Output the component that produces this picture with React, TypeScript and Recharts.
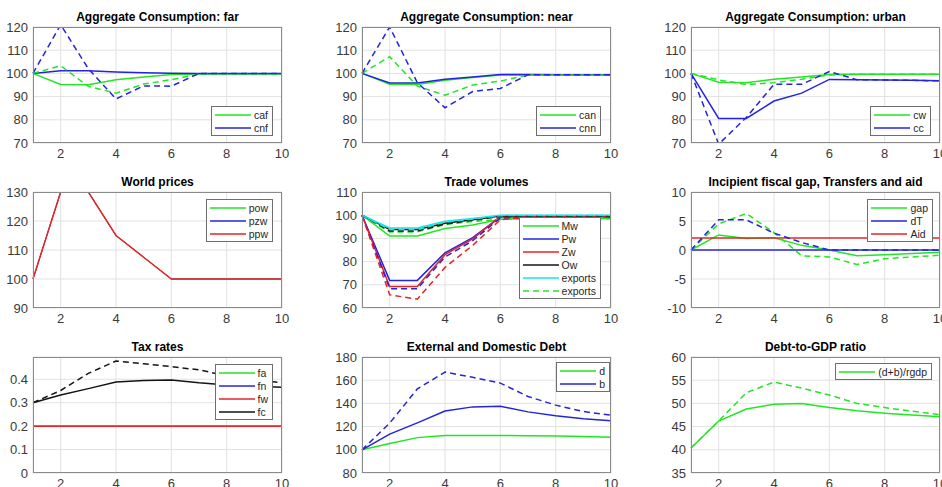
import React from 'react';
import { LineChart, Line, XAxis, YAxis, CartesianGrid } from 'recharts';

// ---------- data ----------
const periods = [1, 2, 3, 4, 5, 6, 7, 8, 9, 10];
const xTicks = [2, 4, 6, 8, 10];

// Aggregate Consumption: far
const cafBase = [100, 95.2, 95.1, 97.3, 98.5, 99.5, 99.7, 99.7, 99.7, 99.7];
const cnfBase = [100, 101.1, 101.1, 100.6, 100.3, 100.1, 100, 100, 100, 100];
const cafAlt = [100, 103.3, 94.4, 91.5, 95.4, 97.3, 99.7, 99.7, 99.7, 99.7];
const cnfAlt = [100, 121, 102, 89, 94.6, 94.5, 100, 100, 100, 100];

// Aggregate Consumption: near
const canBase = [100, 95.3, 95.2, 97, 98.2, 99.3, 99.3, 99.3, 99.3, 99.3];
const cnnBase = [100, 95.9, 95.9, 97.5, 98.5, 99.5, 99.5, 99.4, 99.4, 99.4];
const canAlt = [100, 107.2, 94.5, 90.6, 95, 96.7, 99.3, 99.3, 99.3, 99.3];
const cnnAlt = [100, 120, 96, 85.2, 92.2, 93.5, 99.4, 99.4, 99.4, 99.4];

// Aggregate Consumption: urban
const cwBase = [100, 96.2, 96, 97.5, 98.5, 99.5, 99.6, 99.6, 99.6, 99.6];
const ccBase = [100, 80.6, 80.6, 88.1, 91.5, 97.4, 97.3, 97.2, 97, 96.8];
const cwAlt = [100, 97.2, 95.2, 96, 97.5, 99.3, 99.6, 99.6, 99.6, 99.6];
const ccAlt = [100, 69.5, 81, 95.3, 95.3, 100.8, 97.3, 97.2, 97, 96.8];

// World prices
const powBase = [100, 130, 130, 115, 107.5, 100, 100, 100, 100, 100];
const pzwBase = [100, 130, 130, 115, 107.5, 100, 100, 100, 100, 100];
const ppwBase = [100, 130, 130, 115, 107.5, 100, 100, 100, 100, 100];

// Trade volumes
const mwBase = [100, 91, 91, 94.3, 95.8, 98.3, 98.6, 98.6, 98.6, 98.6];
const pwBase = [100, 71.9, 71.9, 83.8, 90.3, 99.2, 99.3, 99.3, 99.3, 99.3];
const zwBase = [100, 69.3, 69.3, 83, 89.8, 99.5, 99.5, 99.5, 99.5, 99.5];
const owBase = [100, 93.8, 93.8, 96.5, 98, 99.7, 99.8, 99.8, 99.8, 99.8];
const exportsBase = [100, 94.5, 94.5, 97.4, 98.6, 100, 100, 100, 100, 100];
const mwAlt = [100, 92.8, 92.8, 96, 97.3, 98.2, 98.5, 98.5, 98.5, 98.5];
const pwAlt = [100, 68.3, 68.3, 82, 89, 98.8, 99.1, 99.1, 99.1, 99.1];
const zwAlt = [100, 65.7, 63.8, 77.5, 87, 98, 99.2, 99.2, 99.2, 99.2];
const owAlt = [100, 93.2, 93.2, 96.2, 97.8, 99.5, 99.6, 99.6, 99.6, 99.6];
const exportsAlt = [100, 93.8, 93.8, 97, 98.3, 99.8, 99.9, 99.9, 99.9, 99.9];

// Incipient fiscal gap, Transfers and aid
const gapBase = [0, 2.6, 2.0, 2.1, 0.8, 0, -1, -0.8, -0.6, -0.4];
const dTBase = [0, 0, 0, 0, 0, 0, 0, 0, 0, 0];
const aidBase = [2.05, 2.05, 2.05, 2.05, 2.05, 2.05, 2.05, 2.05, 2.05, 2.05];
const gapAlt = [0, 4.5, 6.3, 3.0, -1, -1.2, -2.5, -1.5, -1.2, -0.9];
const dTAlt = [0, 5.2, 5.2, 2.9, 1.3, 0, 0, 0, 0, 0];

// Tax rates
const faBase = [0.2, 0.2, 0.2, 0.2, 0.2, 0.2, 0.2, 0.2, 0.2, 0.2];
const fnBase = [0.2, 0.2, 0.2, 0.2, 0.2, 0.2, 0.2, 0.2, 0.2, 0.2];
const fwBase = [0.2, 0.2, 0.2, 0.2, 0.2, 0.2, 0.2, 0.2, 0.2, 0.2];
const fcBase = [0.3, 0.333, 0.36, 0.388, 0.395, 0.397, 0.385, 0.376, 0.37, 0.366];
const fcAlt = [0.3, 0.352, 0.425, 0.478, 0.466, 0.454, 0.44, 0.415, 0.398, 0.385];

// External and Domestic Debt
const dBase = [100, 105.5, 110.5, 112.3, 112.3, 112.3, 112.2, 112, 111.5, 110.8];
const bBase = [100, 113.5, 123.2, 133.5, 137, 137.5, 132.7, 129.3, 126.8, 125];
const bAlt = [100, 123, 152.5, 167, 162.5, 157.5, 146, 138.5, 133, 129.8];

// Debt-to-GDP ratio
const ratioBase = [40.4, 46.2, 48.8, 49.8, 50, 49.1, 48.4, 47.9, 47.5, 47.1];
const ratioAlt = [40.4, 46.2, 52.3, 54.6, 53.3, 51.8, 50, 49.1, 48.3, 47.6];

// tick labels
const consTicks = [70, 80, 90, 100, 110, 120];
const priceTicks = [90, 100, 110, 120, 130];
const tradeTicks = [60, 70, 80, 90, 100, 110];
const gapTicks = [-10, -5, 0, 5, 10];
const taxTicks = [0, 0.1, 0.2, 0.3, 0.4];
const debtTicks = [80, 100, 120, 140, 160, 180];
const ratioTicks = [35, 40, 45, 50, 55, 60];

// ---------- styling ----------
const G = '#22e622';
const B = '#2424e0';
const R = '#e62424';
const C = '#14e6e6';
const K = '#141414';
const FONT = '"Liberation Sans", Arial, Helvetica, sans-serif';

const COL_X = [33, 362, 691];
const ROW_Y = [27, 192, 357];
const PW = 249;
const PH = 116;
const YW = 40;
const MT = 30;
const XH = 24;

type Series = { key: string; data: number[]; color: string; dash?: boolean; under?: boolean };
type LegendItem = { label: string; color: string; dash?: boolean };
type PanelCfg = {
  col: number;
  row: number;
  title: string;
  domain: [number, number];
  ticks: number[];
  series: Series[];
  legend: LegendItem[];
  legendRight: number;
  legendTop: number;
};

const panels: PanelCfg[] = [
  {
    col: 0, row: 0, title: 'Aggregate Consumption: far', domain: [70, 120], ticks: consTicks,
    series: [
      { key: 'caf', data: cafBase, color: G },
      { key: 'cnf', data: cnfBase, color: B },
      { key: 'caf2', data: cafAlt, color: G, dash: true },
      { key: 'cnf2', data: cnfAlt, color: B, dash: true },
    ],
    legend: [{ label: 'caf', color: G }, { label: 'cnf', color: B }],
    legendRight: 9, legendTop: 79,
  },
  {
    col: 1, row: 0, title: 'Aggregate Consumption: near', domain: [70, 120], ticks: consTicks,
    series: [
      { key: 'can', data: canBase, color: G },
      { key: 'cnn', data: cnnBase, color: B },
      { key: 'can2', data: canAlt, color: G, dash: true },
      { key: 'cnn2', data: cnnAlt, color: B, dash: true },
    ],
    legend: [{ label: 'can', color: G }, { label: 'cnn', color: B }],
    legendRight: 10, legendTop: 79,
  },
  {
    col: 2, row: 0, title: 'Aggregate Consumption: urban', domain: [70, 120], ticks: consTicks,
    series: [
      { key: 'cw', data: cwBase, color: G },
      { key: 'cc', data: ccBase, color: B },
      { key: 'cw2', data: cwAlt, color: G, dash: true },
      { key: 'cc2', data: ccAlt, color: B, dash: true },
    ],
    legend: [{ label: 'cw', color: G }, { label: 'cc', color: B }],
    legendRight: 9, legendTop: 79,
  },
  {
    col: 0, row: 1, title: 'World prices', domain: [90, 130], ticks: priceTicks,
    series: [
      { key: 'pow', data: powBase, color: G, under: true },
      { key: 'pzw', data: pzwBase, color: B, under: true },
      { key: 'ppw', data: ppwBase, color: R },
    ],
    legend: [{ label: 'pow', color: G }, { label: 'pzw', color: B }, { label: 'ppw', color: R }],
    legendRight: 9, legendTop: 7,
  },
  {
    col: 1, row: 1, title: 'Trade volumes', domain: [60, 110], ticks: tradeTicks,
    series: [
      { key: 'Mw', data: mwBase, color: G },
      { key: 'Pw', data: pwBase, color: B },
      { key: 'Zw', data: zwBase, color: R },
      { key: 'Ow', data: owBase, color: K },
      { key: 'ex', data: exportsBase, color: C },
      { key: 'Mw2', data: mwAlt, color: G, dash: true },
      { key: 'Pw2', data: pwAlt, color: B, dash: true },
      { key: 'Zw2', data: zwAlt, color: R, dash: true },
      { key: 'Ow2', data: owAlt, color: K, dash: true },
      { key: 'ex2', data: exportsAlt, color: C, dash: true },
    ],
    legend: [
      { label: 'Mw', color: G }, { label: 'Pw', color: B }, { label: 'Zw', color: R },
      { label: 'Ow', color: K }, { label: 'exports', color: C }, { label: 'exports', color: G, dash: true },
    ],
    legendRight: 10, legendTop: 25,
  },
  {
    col: 2, row: 1, title: 'Incipient fiscal gap, Transfers and aid', domain: [-10, 10], ticks: gapTicks,
    series: [
      { key: 'gap', data: gapBase, color: G },
      { key: 'dT', data: dTBase, color: B },
      { key: 'Aid', data: aidBase, color: R },
      { key: 'gap2', data: gapAlt, color: G, dash: true },
      { key: 'dT2', data: dTAlt, color: B, dash: true },
    ],
    legend: [{ label: 'gap', color: G }, { label: 'dT', color: B }, { label: 'Aid', color: R }],
    legendRight: 7, legendTop: 7,
  },
  {
    col: 0, row: 2, title: 'Tax rates', domain: [0, 0.495], ticks: taxTicks,
    series: [
      { key: 'fa', data: faBase, color: G, under: true },
      { key: 'fn', data: fnBase, color: B, under: true },
      { key: 'fw', data: fwBase, color: R },
      { key: 'fc', data: fcBase, color: K },
      { key: 'fc2', data: fcAlt, color: K, dash: true },
    ],
    legend: [{ label: 'fa', color: G }, { label: 'fn', color: B }, { label: 'fw', color: R }, { label: 'fc', color: K }],
    legendRight: 9, legendTop: 7,
  },
  {
    col: 1, row: 2, title: 'External and Domestic Debt', domain: [80, 180], ticks: debtTicks,
    series: [
      { key: 'd', data: dBase, color: G },
      { key: 'b', data: bBase, color: B },
      { key: 'b2', data: bAlt, color: B, dash: true },
    ],
    legend: [{ label: 'd', color: G }, { label: 'b', color: B }],
    legendRight: 1, legendTop: 5,
  },
  {
    col: 2, row: 2, title: 'Debt-to-GDP ratio', domain: [35, 60], ticks: ratioTicks,
    series: [
      { key: 'r', data: ratioBase, color: G },
      { key: 'r2', data: ratioAlt, color: G, dash: true },
    ],
    legend: [{ label: '(d+b)/rgdp', color: G }],
    legendRight: 8, legendTop: 6,
  },
];

function Panel({ cfg }: { cfg: PanelCfg }) {
  const left = COL_X[cfg.col];
  const top = ROW_Y[cfg.row];
  const rows = periods.map((t, i) => {
    const r: Record<string, number> = { t };
    cfg.series.forEach((s) => {
      r[s.key] = s.data[i];
    });
    return r;
  });
  const tickStyle = { fill: '#3a3a3a', fontSize: 13, fontFamily: FONT };
  return (
    <div style={{ position: 'absolute', left: left - YW, top: top - MT, width: YW + PW + 10, height: MT + PH + XH }}>
      <LineChart
        width={YW + PW + 10}
        height={MT + PH + XH}
        data={rows}
        margin={{ top: MT, right: 10, bottom: 0, left: 0 }}
      >
        <CartesianGrid stroke="#e2e2e2" strokeWidth={1} />
        <XAxis
          dataKey="t"
          type="number"
          domain={[1, 10]}
          ticks={xTicks}
          height={XH}
          tickSize={0}
          tickMargin={6}
          axisLine={false}
          tickLine={false}
          tick={tickStyle}
          interval={0}
        />
        <YAxis
          type="number"
          domain={cfg.domain}
          ticks={cfg.ticks}
          allowDataOverflow
          width={YW}
          tickSize={0}
          tickMargin={5}
          axisLine={false}
          tickLine={false}
          tick={tickStyle}
          interval={0}
        />
        {cfg.series.map((s) => (
          <Line
            key={s.key}
            dataKey={s.key}
            type="linear"
            stroke={s.color}
            strokeWidth={s.under ? 0.8 : 1.5}
            strokeDasharray={s.dash ? '6 4' : undefined}
            dot={false}
            activeDot={false}
            isAnimationActive={false}
          />
        ))}
      </LineChart>
      <div
        style={{
          position: 'absolute', left: YW, top: MT - 17, width: PW, height: 14, lineHeight: '14px',
          textAlign: 'center', fontFamily: FONT, fontWeight: 'bold', fontSize: 12, color: '#000', whiteSpace: 'nowrap',
        }}
      >
        {cfg.title}
      </div>
      <div
        style={{
          position: 'absolute', left: YW, top: MT, width: PW, height: PH, boxSizing: 'border-box',
          border: '1px solid #8a8a8a', pointerEvents: 'none',
        }}
      />
      <div
        style={{
          position: 'absolute', right: 10 + cfg.legendRight, top: MT + cfg.legendTop,
          background: '#fff', border: '1px solid #6e6e6e', padding: '1px 4px 1px 3px',
          fontFamily: FONT, fontSize: 10.5, color: '#262626',
        }}
      >
        {cfg.legend.map((it, i) => (
          <div key={i} style={{ display: 'flex', alignItems: 'center', height: 13 }}>
            <svg width={36} height={6} style={{ display: 'block' }}>
              <line x1={0} y1={3} x2={36} y2={3} stroke={it.color} strokeWidth={1.5} strokeDasharray={it.dash ? '6 4' : undefined} />
            </svg>
            <span style={{ marginLeft: 3, whiteSpace: 'nowrap' }}>{it.label}</span>
          </div>
        ))}
      </div>
    </div>
  );
}

export default function App() {
  return (
    <div style={{ position: 'absolute', left: 0, top: 0, width: 942, height: 487, overflow: 'hidden', background: '#fff' }}>
      {panels.map((p, i) => (
        <Panel key={i} cfg={p} />
      ))}
    </div>
  );
}
